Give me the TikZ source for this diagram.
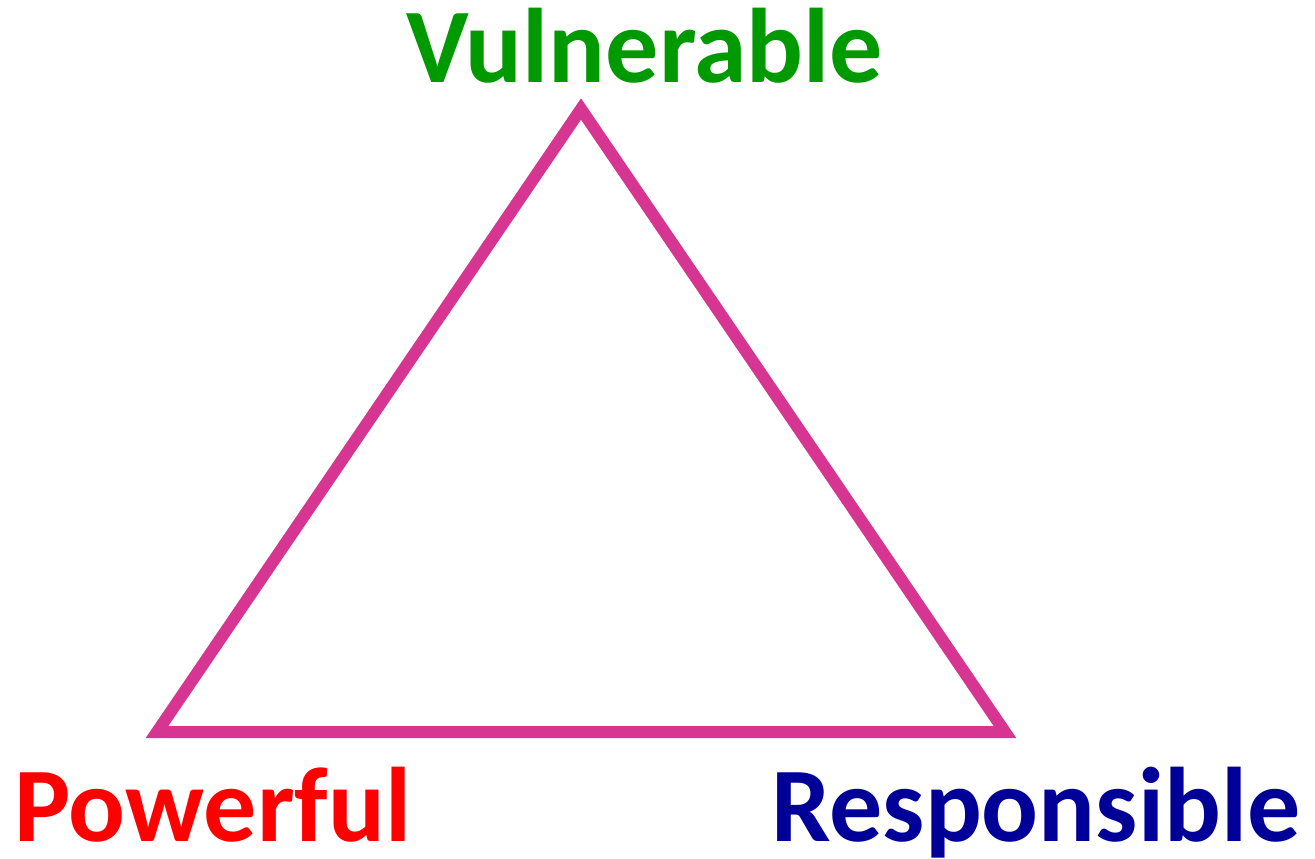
\documentclass[tikz,border=0pt]{standalone}
\usepackage{fontspec}
\setmainfont{Carlito}
\definecolor{tri}{HTML}{D63592}
\definecolor{vgreen}{HTML}{009900}
\definecolor{pred}{HTML}{FF0000}
\definecolor{rblue}{HTML}{000099}
\tikzset{lbl/.style={inner sep=0pt, anchor=base west, font=\fontsize{106}{110}\selectfont\bfseries}}
\begin{document}
\begin{tikzpicture}[x=1pt,y=-1pt]
\useasboundingbox (0,0) rectangle (1315,859);
\coordinate (top) at (581,109);
\coordinate (bl) at (157,732);
\coordinate (br) at (1005,732);
\draw[tri, line width=12pt, miter limit=10] (top) -- (bl) -- (br) -- cycle;
\node[lbl, text=vgreen] (v) at (406,83) {Vulnerable};
\node[lbl, text=pred] (p) at (14,841) {Powerful};
\node[lbl, text=rblue] (r) at (771,841) {Responsible};
\end{tikzpicture}
\end{document}
